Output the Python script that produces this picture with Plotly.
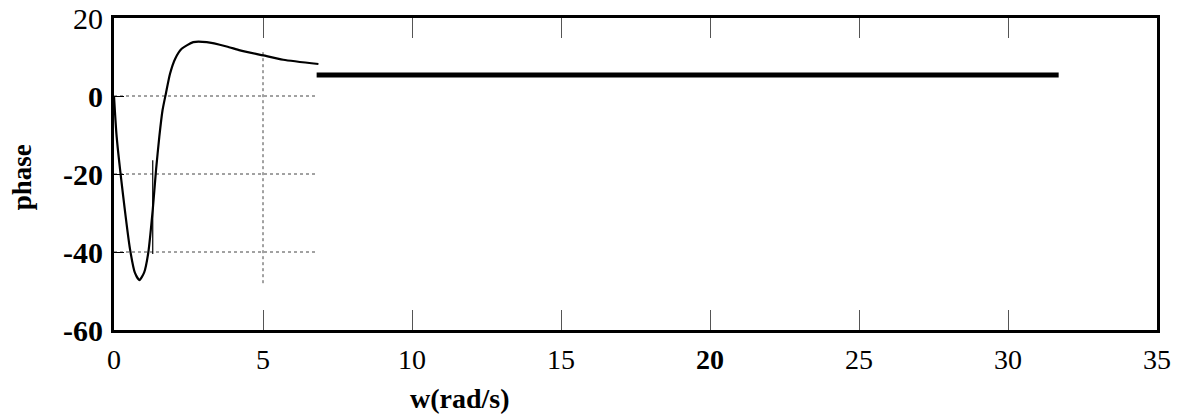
import plotly.graph_objects as go

# Phase response curve
w_vals = [0.0, 0.09, 0.31, 0.54, 0.70, 0.85, 1.01, 1.15, 1.30, 1.41, 1.52, 1.63, 1.74,
          1.88, 2.05, 2.27, 2.66, 3.11, 3.78, 4.23, 5.01, 5.68, 6.86]
phase_vals = [0.0, -10.5, -25.8, -39.4, -45.3, -47.2, -45.3, -40.2, -29.2, -19.0, -10.5,
              -3.6, 0.6, 5.7, 9.5, 12.1, 13.8, 13.8, 12.7, 11.7, 10.4, 9.3, 8.2]

# thick horizontal stroke (scan artefact) in the reference
bar_w = [6.8, 31.7]
bar_phase = [5.4, 5.4]

# short vertical stroke near the minimum
stroke_w = [1.3, 1.3]
stroke_phase = [-16.5, -40.5]

x_ticks = [0, 5, 10, 15, 20, 25, 30, 35]
x_tick_text = ["0", "5", "10", "15", "<b>20</b>", "25", "30", "35"]
y_ticks = [-60, -40, -20, 0, 20]
y_tick_text = ["<b>-60</b>", "<b>-40</b>", "<b>-20</b>", "<b>0</b>", "20"]

grid_y = [0, -20, -40]
grid_x_end = 6.8

fig = go.Figure()
fig.add_trace(go.Scatter(x=w_vals, y=phase_vals, mode="lines",
                         line=dict(color="black", width=2.2, shape="spline", smoothing=0.6),
                         showlegend=False, hoverinfo="skip"))
fig.add_trace(go.Scatter(x=bar_w, y=bar_phase, mode="lines",
                         line=dict(color="black", width=5), showlegend=False))
fig.add_trace(go.Scatter(x=stroke_w, y=stroke_phase, mode="lines",
                         line=dict(color="black", width=1.2), showlegend=False))

shapes = []
for gy in grid_y:
    shapes.append(dict(type="line", xref="x", yref="y", x0=0, x1=grid_x_end, y0=gy, y1=gy,
                       line=dict(color="#444", width=1, dash="dot"), layer="below"))
shapes.append(dict(type="line", xref="x", yref="y", x0=5, x1=5, y0=-48, y1=12,
                   line=dict(color="#444", width=1, dash="dot"), layer="below"))

serif = "Liberation Serif, Times New Roman, serif"

fig.update_layout(
    width=1183, height=416,
    margin=dict(l=114, r=26, t=18, b=86, autoexpand=False),
    paper_bgcolor="white", plot_bgcolor="white",
    shapes=shapes,
    font=dict(family=serif, color="black"),
    xaxis=dict(range=[0, 35], tickvals=x_ticks, ticktext=x_tick_text,
               ticks="inside", ticklen=20, tickwidth=1, tickcolor="#555",
               showline=True, linecolor="black", linewidth=3, mirror="ticks",
               showgrid=False, zeroline=False, automargin=False,
               ticklabelstandoff=2,
               tickfont=dict(family=serif, size=28, color="black")),
    yaxis=dict(range=[-60, 20], tickvals=y_ticks, ticktext=y_tick_text,
               ticks="inside", ticklen=10, tickwidth=1, tickcolor="black",
               showline=True, linecolor="black", linewidth=3, mirror=True,
               showgrid=False, zeroline=False, automargin=False,
               ticklabelstandoff=2,
               tickfont=dict(family=serif, size=30, color="black")),
    annotations=[
        dict(text="<b>w(rad/s)</b>", xref="x", yref="paper", x=11.6, y=-0.218,
             yanchor="middle", xanchor="center", showarrow=False,
             font=dict(family=serif, size=28, color="black")),
        dict(text="<b>phase</b>", xref="paper", yref="paper", x=-0.088, y=0.49,
             xanchor="center", yanchor="middle", textangle=-90, showarrow=False,
             font=dict(family=serif, size=27, color="black")),
    ],
)

fig.write_html("out.html", config={"displayModeBar": False},
               post_script="document.body.style.margin='0';")
